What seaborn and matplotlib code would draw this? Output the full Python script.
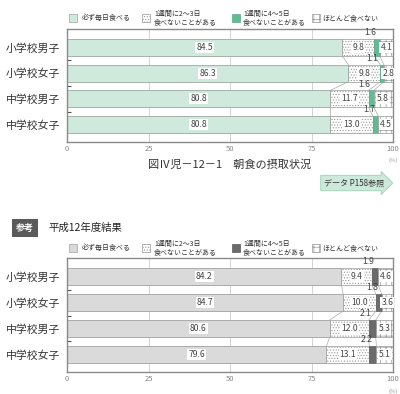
import matplotlib
matplotlib.use('Agg')
import matplotlib.pyplot as plt
import seaborn as sns
import pandas as pd
from matplotlib.patches import Rectangle

categories = ['小学校男子', '小学校女子', '中学校男子', '中学校女子']
series_names = ['必ず毎日食べる', '1週間に2～3日\n食べないことがある',
                '1週間に4～5日\n食べないことがある', 'ほとんど食べない']
top_every = [84.5, 86.3, 80.8, 80.8]
top_23 = [9.8, 9.8, 11.7, 13.0]
top_45 = [1.6, 1.1, 1.6, 1.7]
top_rare = [4.1, 2.8, 5.8, 4.5]
bot_every = [84.2, 84.7, 80.6, 79.6]
bot_23 = [9.4, 10.0, 12.0, 13.1]
bot_45 = [1.9, 1.8, 2.1, 2.2]
bot_rare = [4.6, 3.6, 5.3, 5.1]
x_ticks = [0, 25, 50, 75, 100]
title_top = '図Ⅳ児－12－1　朝食の摂取状況'
title_bot = '平成12年度結果'
ref_tag = '参考'
arrow_text = 'データ P158参照'

sns.set_theme(style='white')
plt.rcParams['font.family'] = ['Noto Sans CJK JP', 'DejaVu Sans']
plt.rcParams['hatch.linewidth'] = 0.5

W, H = 400, 394
fig = plt.figure(figsize=(4, 3.94), dpi=100)
fig.patch.set_facecolor('white')


def ax_rect(top_px, bottom_px, left_px=67, right_px=393):
    return [left_px / W, 1 - bottom_px / H, (right_px - left_px) / W, (bottom_px - top_px) / H]


top_colors = ['#d0e9dd', 'white', '#5fbd93', 'white']
bot_colors = ['#dadada', 'white', '#6b6b6b', 'white']
hatches = [None, '......', None, '+++']
top_edges = ['#9aa8a0', '#999999', '#5aa886', '#999999']
bot_edges = ['#a0a0a0', '#999999', '#5a5a5a', '#999999']

NUM_COLOR = '#444444'
NUM_SIZE = 6.2
BOX = dict(boxstyle='square,pad=0.12', fc='white', ec='none')
BAR_H = 0.66


def draw(ax, segs, colors, edges):
    df = pd.DataFrame({'cat': categories, 'v': segs[0]})
    sns.barplot(data=df, x='v', y='cat', ax=ax, color=colors[0], width=BAR_H,
                saturation=1, edgecolor=edges[0], linewidth=0.6, zorder=2)
    n = len(categories)
    left = list(segs[0])
    cums = [list(segs[0])]
    for i in range(1, 4):
        ax.barh(range(n), segs[i], left=left, height=BAR_H, color=colors[i],
                hatch=hatches[i], edgecolor=edges[i], linewidth=0.5, zorder=2)
        left = [a + b for a, b in zip(left, segs[i])]
        cums.append(list(left))
    hh = BAR_H / 2
    for c in cums[:3]:
        for r in range(n - 1):
            ax.plot([c[r], c[r + 1]], [r + hh, r + 1 - hh], color='#aaaaaa',
                    lw=0.5, zorder=1.5)
    for r in range(n):
        s0, s1, s2, s3 = segs[0][r], segs[1][r], segs[2][r], segs[3][r]
        ax.text(s0 / 2, r, f'{s0:.1f}', ha='center', va='center', fontsize=NUM_SIZE,
                color=NUM_COLOR, bbox=BOX, zorder=5)
        ax.text(s0 + s1 / 2, r, f'{s1:.1f}', ha='center', va='center', fontsize=NUM_SIZE,
                color=NUM_COLOR, bbox=BOX, zorder=5)
        x3 = min(s0 + s1 + s2 / 2 - 2, 93.5)
        ax.text(x3, r - hh - 0.24, f'{s2:.1f}', ha='center', va='center',
                fontsize=NUM_SIZE, color=NUM_COLOR, zorder=5)
        ax.text(s0 + s1 + s2 + s3 / 2, r, f'{s3:.1f}', ha='center', va='center',
                fontsize=NUM_SIZE, color=NUM_COLOR, bbox=BOX, zorder=5, clip_on=False)
    ax.set_xlim(0, 100)
    ax.set_ylim(3.68, -0.72)
    ax.set_xlabel('')
    ax.set_ylabel('')
    ax.set_xticks(x_ticks)
    ax.set_xticklabels([str(t) for t in x_ticks])
    ax.tick_params(axis='x', length=0, labelsize=5.5, labelcolor='#888888', pad=2.5)
    ax.set_yticks(range(n))
    ax.set_yticklabels(categories)
    ax.tick_params(axis='y', which='major', length=0, labelsize=7.8,
                   labelcolor='#333333', pad=5)
    ax.set_yticks([0.5, 1.5, 2.5], minor=True)
    ax.tick_params(axis='y', which='minor', direction='in', length=3, width=0.8,
                   color='#555555', left=True)
    ax.xaxis.grid(True, color='#cccccc', lw=0.6)
    ax.yaxis.grid(False)
    ax.set_axisbelow(True)
    for sp in ax.spines.values():
        sp.set_color('#8a8a8a')
        sp.set_linewidth(1.0)
    ax.text(100, -0.165, '(%)', transform=ax.get_xaxis_transform(), ha='center',
            va='center', fontsize=4.2, color='#999999', clip_on=False)


def legend(y_px, colors, edges):
    xs_sq = [69, 141.5, 232, 312]
    xs_txt = [82, 154, 243, 322]
    for i in range(4):
        fig.add_artist(Rectangle((xs_sq[i] / W, 1 - (y_px + 4) / H), 8 / W, 8 / H,
                                 transform=fig.transFigure, facecolor=colors[i],
                                 hatch=hatches[i], edgecolor=edges[i], lw=0.5))
        fig.text(xs_txt[i] / W, 1 - y_px / H, series_names[i], fontsize=5,
                 va='center', ha='left', linespacing=1.0, color='#333333')


ax1 = fig.add_axes(ax_rect(29, 142))
draw(ax1, [top_every, top_23, top_45, top_rare], top_colors, top_edges)
legend(18, top_colors, top_edges)

ax2 = fig.add_axes(ax_rect(258, 372))
draw(ax2, [bot_every, bot_23, bot_45, bot_rare], bot_colors, bot_edges)
legend(248, bot_colors, bot_edges)

fig.text(230 / W, 1 - 165 / H, title_top, fontsize=8, ha='center', va='center',
         color='#333333')
fig.text(354 / W, 1 - 183 / H, arrow_text, fontsize=5.8, ha='center', va='center',
         color='#333333',
         bbox=dict(boxstyle='rarrow,pad=0.4', fc='#cde9db', ec='#9fd0b6', lw=0.6))
fig.text(25 / W, 1 - 228 / H, ref_tag, fontsize=6.5, ha='center', va='center',
         color='white', weight='bold',
         bbox=dict(boxstyle='square,pad=0.45', fc='#5a5a5a', ec='none'))
fig.text(48 / W, 1 - 228 / H, title_bot, fontsize=7.5, ha='left', va='center',
         color='#222222')

fig.savefig('out.png', dpi=100, facecolor='white')
